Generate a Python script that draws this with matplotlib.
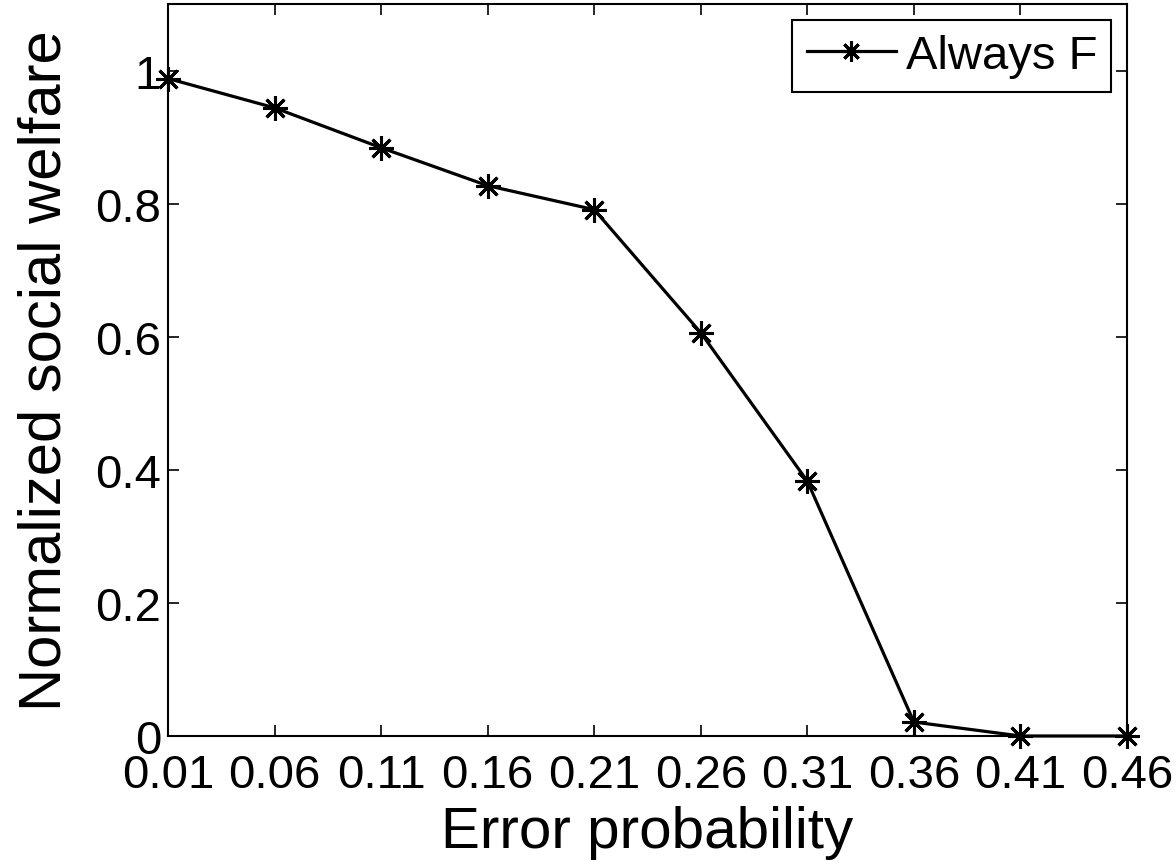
import matplotlib
matplotlib.use("Agg")
import matplotlib.pyplot as plt

error_prob = [0.01, 0.06, 0.11, 0.16, 0.21, 0.26, 0.31, 0.36, 0.41, 0.46]
welfare = [0.988, 0.944, 0.884, 0.827, 0.791, 0.606, 0.383, 0.021, 0.0, 0.0]
yticks = [0, 0.2, 0.4, 0.6, 0.8, 1]
ytick_labels = ["0", "0.2", "0.4", "0.6", "0.8", "1"]

plt.rcParams['font.family'] = ['Liberation Sans', 'DejaVu Sans']

fig = plt.figure(figsize=(11.76, 8.62), dpi=100)
ax = fig.add_axes([168/1176, 1-737/862, (1127-168)/1176, (737-5)/862])

ax.plot(error_prob, welfare, color='black', linewidth=2.3,
        marker=(8, 2, 0), markersize=18, markeredgewidth=2.2,
        label='Always F', clip_on=False, zorder=5)

ax.set_xlim(0.01, 0.46)
ax.set_ylim(0, 1.1)
ax.set_xticks(error_prob)
ax.set_xticklabels([f"{v:.2f}" for v in error_prob])
ax.set_yticks(yticks)
ax.set_yticklabels(ytick_labels)

ax.tick_params(direction='in', top=True, right=True, labelsize=34,
               length=8, width=1.2)
ax.tick_params(axis='x', pad=12)
ax.tick_params(axis='y', pad=5)
for s in ax.spines.values():
    s.set_linewidth(1.5)

ax.set_xlabel('Error probability', fontsize=42, labelpad=6)
ax.set_ylabel('Normalized social welfare', fontsize=43, labelpad=16)

leg = ax.legend(loc='upper right', fontsize=34, frameon=True, fancybox=False,
                edgecolor='black', framealpha=1, borderpad=0.3,
                handlelength=1.9, handletextpad=0.2, borderaxespad=0.33,
                markerscale=0.8)
leg.get_frame().set_linewidth(1.5)

fig.savefig('out.png', dpi=100)
